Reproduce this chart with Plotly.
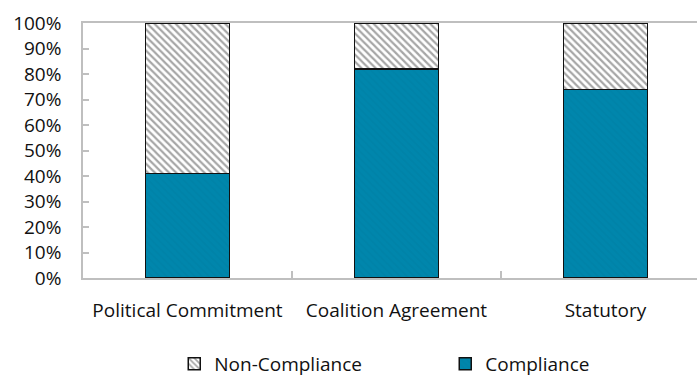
import plotly.graph_objects as go

categories = ["Political Commitment", "Coalition Agreement", "Statutory"]
compliance = [41, 82, 74]
non_compliance = [59, 18, 26]
y_ticks = [0, 10, 20, 30, 40, 50, 60, 70, 80, 90, 100]
y_tick_labels = [f"{v}%" for v in y_ticks]

FONT = "Open Sans"
FS = 19

fig = go.Figure()
fig.add_trace(go.Bar(
    name="Compliance", x=categories, y=compliance, width=0.40,
    marker=dict(color="#0086AC", line=dict(color="#111111", width=1.5),
                pattern=dict(shape="\\", fgcolor="#007FA4", size=5, solidity=0.35)),
))
fig.add_trace(go.Bar(
    name="Non-Compliance", x=categories, y=non_compliance, width=0.40,
    marker=dict(color="#FFFFFF", line=dict(color="#111111", width=1.5),
                pattern=dict(shape="\\", fgcolor="#4d4d4d", bgcolor="#FFFFFF", size=5, solidity=0.45)),
))

fig.update_layout(
    width=697, height=381,
    margin=dict(l=83, r=0, t=23, b=103, autoexpand=False),
    barmode="stack",
    plot_bgcolor="white", paper_bgcolor="white",
    font=dict(family=FONT, size=FS, color="#111111"),
    showlegend=True,
    legend=dict(orientation="h", traceorder="reversed", xref="container", yref="container",
                x=0.25, xanchor="left", y=0.045, yanchor="middle",
                entrywidth=226, entrywidthmode="pixels",
                font=dict(family=FONT, size=FS, color="#111111")),
)
fig.update_xaxes(
    range=[-0.5, 2.438], showline=True, linecolor="#BFBFBF", linewidth=1.5, mirror=True,
    ticks="inside", ticklen=7, tickcolor="#BFBFBF", tickwidth=1.5, tickson="boundaries",
    showgrid=False, ticklabelstandoff=14, tickfont=dict(family=FONT, size=FS),
)
fig.update_yaxes(
    range=[0, 100], tickmode="array", tickvals=y_ticks, ticktext=y_tick_labels, showline=True,
    linecolor="#BFBFBF", linewidth=1.5, ticks="inside", ticklen=6, tickcolor="#BFBFBF", tickwidth=1.5,
    showgrid=False, zeroline=False, ticklabelstandoff=16, tickfont=dict(family=FONT, size=FS),
)

fig.write_html("out.html")
